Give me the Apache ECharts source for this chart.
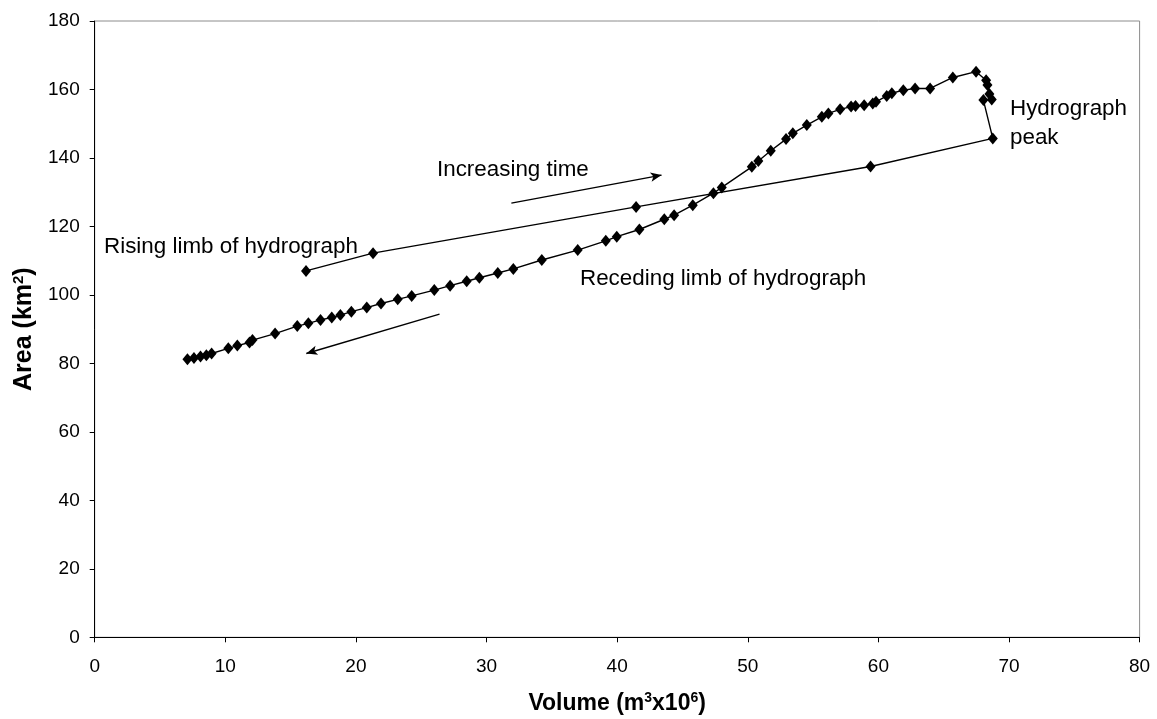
<!DOCTYPE html>
<html>
<head>
<meta charset="utf-8">
<script src="https://cdn.jsdelivr.net/npm/echarts@6/dist/echarts.min.js"></script>
<style>
  html, body { margin: 0; padding: 0; background: #fff; }
  #chart { width: 1157px; height: 719px; }
</style>
</head>
<body>
<div id="chart"></div>
<script>
// Storage volume (m3 x 10^6) and inundated area (km2), in time order
const volume = [
  16.18, 21.31, 41.45, 59.40, 68.76,
  68.04, 68.68, 68.50, 68.35, 68.25, 67.48, 65.70, 63.96, 62.81, 61.91,
  61.03, 60.64, 59.82, 59.57, 58.91, 58.25, 57.91, 57.07, 56.17, 55.67,
  54.52, 53.45, 52.93, 51.76, 50.81, 50.31, 48.01, 47.37, 45.79, 44.36,
  43.61, 41.70, 39.97, 39.13, 36.98, 34.23, 32.05, 30.86, 29.45, 28.48,
  27.21, 26.00, 24.27, 23.20, 21.92, 20.83, 19.65, 18.81, 18.15, 17.29,
  16.36, 15.51, 13.81, 12.08, 11.85, 10.92, 10.23, 8.95, 8.55, 8.10,
  7.60, 7.10
];
const area = [
  107.0, 112.2, 125.7, 137.5, 145.7,
  156.9, 157.1, 158.7, 161.3, 162.7, 165.2, 163.5, 160.3, 160.3, 159.8,
  158.9, 158.1, 156.4, 155.9, 155.4, 155.2, 155.0, 154.2, 153.0, 152.0,
  149.6, 147.2, 145.5, 142.1, 139.1, 137.4, 131.4, 129.7, 126.2, 123.3,
  122.1, 119.1, 117.0, 115.8, 113.1, 110.2, 107.6, 106.4, 105.0, 104.0,
  102.7, 101.4, 99.7, 98.7, 97.5, 96.3, 95.1, 94.1, 93.4, 92.7,
  91.7, 90.9, 88.7, 86.8, 86.1, 85.2, 84.4, 82.9, 82.4, 82.0,
  81.6, 81.2
];
const xTicks = { min: 0, max: 80, step: 10 };
const yTicks = { min: 0, max: 180, step: 20 };

// Direction-of-time arrows, in axis units [from, to]
const arrowRising = [[31.9, 126.8], [43.4, 135.0]];
const arrowReceding = [[26.4, 94.4], [16.2, 82.9]];

const FONT = '"Liberation Sans", Arial, sans-serif';

const chart = echarts.init(document.getElementById('chart'), null, { renderer: 'canvas' });

const points = volume.map((v, i) => [v, area[i]]);

function arrowLine(pair) {
  return [
    { coord: pair[0], symbol: 'none' },
    { coord: pair[1], symbol: 'arrow', symbolSize: [7, 11] }
  ];
}

// bold title text with small raised superscripts
function titleRich(size, supSize) {
  return {
    b: { fontFamily: FONT, fontWeight: 'bold', fontSize: size, color: '#000', lineHeight: size + 4, verticalAlign: 'bottom' },
    s: { fontFamily: FONT, fontWeight: 'bold', fontSize: supSize, color: '#000', lineHeight: supSize, verticalAlign: 'top', padding: [3, 0, 0, 0] }
  };
}

const axisCommon = {
  type: 'value',
  splitLine: { show: false },
  axisLine: { show: true, onZero: false, lineStyle: { color: '#000', width: 1 } },
  axisTick: { show: true, inside: false, length: 5, lineStyle: { color: '#000' } },
  axisLabel: { color: '#000', fontSize: 19, fontFamily: FONT }
};

chart.setOption({
  backgroundColor: '#fff',
  animation: false,
  grid: {
    left: 94.7, right: 17.4, top: 21, bottom: 81.7,
    outerBoundsMode: 'none',
    containLabel: false,
    show: true, borderColor: '#8c8c8c', borderWidth: 1
  },
  xAxis: Object.assign({}, axisCommon, {
    min: xTicks.min, max: xTicks.max, interval: xTicks.step,
    axisLabel: Object.assign({}, axisCommon.axisLabel, { margin: 20 }),
    name: '{b|Volume (m}{s|3}{b|x10}{s|6}{b|)}',
    nameLocation: 'middle',
    nameGap: 51,
    nameTextStyle: { fontFamily: FONT, fontWeight: 'bold', fontSize: 23, color: '#000', rich: titleRich(23, 14) }
  }),
  yAxis: Object.assign({}, axisCommon, {
    min: yTicks.min, max: yTicks.max, interval: yTicks.step,
    axisLabel: Object.assign({}, axisCommon.axisLabel, { margin: 15 }),
    name: '{b|Area (km}{s|2}{b|)}',
    nameLocation: 'middle',
    nameGap: 30,
    nameRotate: 90,
    nameTextStyle: { fontFamily: FONT, fontWeight: 'bold', fontSize: 25, color: '#000', rich: titleRich(25, 15) }
  }),
  series: [
    {
      type: 'line',
      data: points,
      symbol: 'diamond',
      symbolSize: [10, 12],
      showAllSymbol: true,
      lineStyle: { color: '#000', width: 1.4 },
      itemStyle: { color: '#000' },
      silent: true,
      markLine: {
        silent: true,
        animation: false,
        label: { show: false },
        lineStyle: { color: '#000', width: 1.4, type: 'solid' },
        data: [arrowLine(arrowRising), arrowLine(arrowReceding)]
      }
    }
  ],
  graphic: [
    { type: 'text', x: 104, y: 247, style: { text: 'Rising limb of hydrograph', font: '22.4px ' + FONT, fill: '#000', verticalAlign: 'middle' } },
    { type: 'text', x: 437, y: 170, style: { text: 'Increasing time', font: '22.4px ' + FONT, fill: '#000', verticalAlign: 'middle' } },
    { type: 'text', x: 580, y: 279, style: { text: 'Receding limb of hydrograph', font: '22.4px ' + FONT, fill: '#000', verticalAlign: 'middle' } },
    { type: 'text', x: 1010, y: 109, style: { text: 'Hydrograph', font: '22.4px ' + FONT, fill: '#000', verticalAlign: 'middle' } },
    { type: 'text', x: 1010, y: 138, style: { text: 'peak', font: '22.4px ' + FONT, fill: '#000', verticalAlign: 'middle' } }
  ]
});
</script>
</body>
</html>
